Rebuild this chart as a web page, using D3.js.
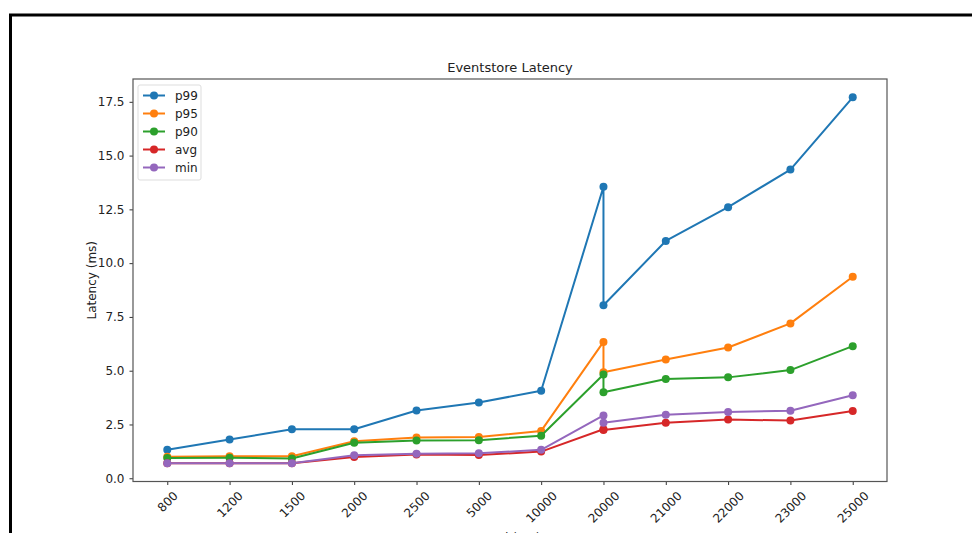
<!DOCTYPE html>
<html>
<head>
<meta charset="utf-8">
<script src="https://cdn.jsdelivr.net/npm/d3@7/dist/d3.min.js"></script>
<style>
	html, body { margin: 0; padding: 0; background: #fff; }
	svg { display: block; font-family: "DejaVu Sans", sans-serif; }
</style>
</head>
<body>
<div id="chart"></div>
<script>
// ----------------------------------
// DATA
// ----------------------------------

const categories = ['800', '1200', '1500', '2000', '2500', '5000', '10000', '20000', '20000', '21000', '22000', '23000', '25000'];

const p99 = [1.33, 1.8, 2.28, 2.28, 3.15, 3.52, 4.07, 13.55, 8.04, 11.03, 12.6, 14.35, 17.71];
const p95 = [1.0, 1.02, 1.02, 1.72, 1.9, 1.92, 2.2, 6.34, 4.93, 5.52, 6.08, 7.2, 9.37];
const p90 = [0.94, 0.95, 0.92, 1.65, 1.76, 1.77, 1.98, 4.82, 4.0, 4.61, 4.69, 5.03, 6.14];
const avg = [0.7, 0.7, 0.7, 0.99, 1.1, 1.08, 1.24, 2.28, 2.24, 2.58, 2.73, 2.68, 3.13];
const min = [0.7, 0.7, 0.7, 1.07, 1.14, 1.16, 1.32, 2.92, 2.58, 2.95, 3.08, 3.14, 3.86];

const seriesNames = ['p99', 'p95', 'p90', 'avg', 'min'];
const seriesValues = [p99, p95, p90, avg, min];
const colors = ['#1f77b4', '#ff7f0e', '#2ca02c', '#d62728', '#9467bd'];

const yTicks = [0, 2.5, 5, 7.5, 10, 12.5, 15, 17.5];

// ----------------------------------
// SIZES
// ----------------------------------

const width = 972,
	height = 533,
	margin = {top: 79, right: 85, bottom: 51.5, left: 133},
	innerWidth = width - margin.left - margin.right,
	innerHeight = height - margin.top - margin.bottom;

const svg = d3.select('#chart')
	.append('svg')
	.attr('width', width)
	.attr('height', height);

// outer black frame of the screenshot
svg.append('rect')
	.attr('x', 10.5)
	.attr('y', 15)
	.attr('width', width + 20)
	.attr('height', height + 20)
	.attr('fill', 'none')
	.attr('stroke', '#000')
	.attr('stroke-width', 3);

// ----------------------------------
// SCALES AND AXES
// ----------------------------------

const x = d3.scalePoint()
	.domain(Array.from(new Set(categories)))
	.range([0, innerWidth])
	.padding(0.55);

// matplotlib style 5% margins
const allValues = seriesValues.flat();
const lo = d3.min(allValues), hi = d3.max(allValues), pad = (hi - lo) * 0.05;

const y = d3.scaleLinear()
	.domain([lo - pad, hi + pad])
	.range([innerHeight, 0]);

const chartInner = svg.append('g')
	.attr('transform', `translate(${margin.left},${margin.top})`);

const xAxis = chartInner.append('g')
	.attr('transform', `translate(0,${innerHeight})`)
	.call(d3.axisBottom(x).tickSize(3.5).tickSizeOuter(0));

xAxis.select('.domain').remove();
xAxis.selectAll('line').attr('stroke', '#333');
xAxis.selectAll('text')
	.style('font-family', '"DejaVu Sans", sans-serif')
	.style('font-size', '12px')
	.attr('fill', '#222')
	.attr('dy', null)
	.attr('y', 0)
	.attr('text-anchor', 'middle')
	.attr('dominant-baseline', 'central')
	.each(function() {
		const w = this.getComputedTextLength();
		const half = (w + 12) * Math.SQRT1_2 / 2;
		d3.select(this).attr('transform', `translate(0,${8 + half}) rotate(-45)`);
	});

const yAxis = chartInner.append('g')
	.call(d3.axisLeft(y).tickValues(yTicks).tickFormat(d3.format('.1f')).tickSize(3.5).tickPadding(5));

yAxis.select('.domain').remove();
yAxis.selectAll('line').attr('stroke', '#333');
yAxis.selectAll('text')
	.style('font-family', '"DejaVu Sans", sans-serif')
	.style('font-size', '12px')
	.attr('fill', '#222');

// frame of the axes
chartInner.append('rect')
	.attr('width', innerWidth)
	.attr('height', innerHeight)
	.attr('fill', 'none')
	.attr('stroke', '#555')
	.attr('stroke-width', 1.2);

// ----------------------------------
// Add the data
// ----------------------------------

const line = d3.line()
	.x((d, i) => x(categories[i]))
	.y(d => y(d));

const series = chartInner.selectAll('g.series')
	.data(seriesValues)
	.enter()
	.append('g')
	.classed('series', true);

series.append('path')
	.attr('d', d => line(d))
	.attr('fill', 'none')
	.attr('stroke', (d, i) => colors[i])
	.attr('stroke-width', 2)
	.attr('stroke-linejoin', 'round');

series.each(function(vals, i) {
	d3.select(this).selectAll('circle')
		.data(vals)
		.enter()
		.append('circle')
		.attr('cx', (d, j) => x(categories[j]))
		.attr('cy', d => y(d))
		.attr('r', 4)
		.attr('fill', colors[i]);
});

// ----------------------------------
// Title, labels, legend
// ----------------------------------

svg.append('text')
	.attr('x', margin.left + innerWidth / 2)
	.attr('y', 72)
	.attr('text-anchor', 'middle')
	.style('font-size', '13px')
	.attr('fill', '#222')
	.text('Eventstore Latency');

svg.append('text')
	.attr('transform', `translate(96,${margin.top + innerHeight / 2}) rotate(-90)`)
	.attr('text-anchor', 'middle')
	.style('font-size', '12px')
	.attr('fill', '#222')
	.text('Latency (ms)');

svg.append('text')
	.attr('x', margin.left + innerWidth / 2)
	.attr('y', 542)
	.attr('text-anchor', 'middle')
	.style('font-size', '12px')
	.attr('fill', '#222')
	.text('Load (rps)');

const legend = chartInner.append('g')
	.attr('transform', 'translate(5,6)');

legend.append('rect')
	.attr('width', 63)
	.attr('height', 95)
	.attr('rx', 2)
	.attr('fill', '#fff')
	.attr('fill-opacity', 0.8)
	.attr('stroke', '#ddd');

const entry = legend.selectAll('g.entry')
	.data(seriesNames)
	.enter()
	.append('g')
	.classed('entry', true)
	.attr('transform', (d, i) => `translate(0,${10.5 + i * 18})`);

entry.append('line')
	.attr('x1', 5)
	.attr('x2', 27)
	.attr('stroke', (d, i) => colors[i])
	.attr('stroke-width', 2);

entry.append('circle')
	.attr('cx', 16)
	.attr('r', 4)
	.attr('fill', (d, i) => colors[i]);

entry.append('text')
	.attr('x', 37)
	.attr('dy', '0.35em')
	.style('font-size', '12px')
	.attr('fill', '#222')
	.text(d => d);
</script>
</body>
</html>
